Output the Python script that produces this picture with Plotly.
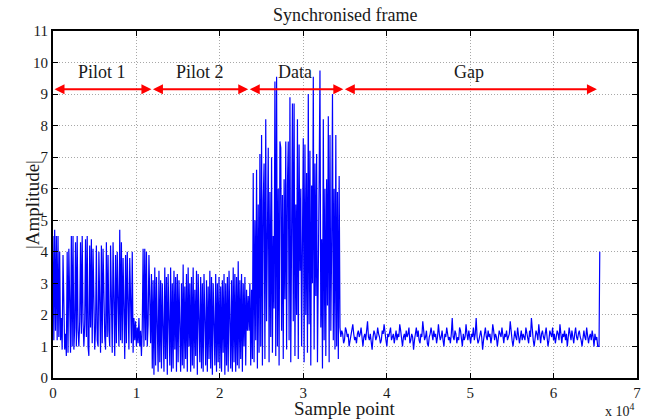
import numpy as np
import plotly.graph_objects as go

# segment boundaries (sample index)
seg_edges = [0, 11700, 23500, 34500, 65400]
seg_names = ["Pilot 1", "Pilot 2", "Data", "Gap"]

# |amplitude|, segment by segment
pilot1 = [4.5, 1.2, 4.7, 1.5, 4.5, 1.2, 4.5, 1.3, 4.0, 1.2, 1.9, 0.9, 3.9, 1.5, 0.9, 1.4, 0.7, 4.0, 0.8, 4.1,
          1.7, 0.8, 4.5, 1.0, 4.5, 0.9, 1.6, 4.3, 1.0, 4.5, 1.5, 1.0, 1.8, 4.3, 1.4, 4.5, 1.8, 1.0, 1.7, 4.4,
          1.3, 4.5, 1.0, 0.7, 4.2, 1.6, 4.4, 1.1, 4.1, 1.4, 0.9, 1.6, 4.2, 1.2, 1.0, 4.0, 1.4, 0.8, 4.2, 1.1,
          4.1, 1.6, 1.3, 0.9, 4.3, 1.3, 3.9, 1.5, 1.0, 4.2, 1.2, 0.8, 4.3, 1.4, 0.7, 3.9, 1.1, 4.0, 1.6, 1.0,
          4.7, 1.2, 4.3, 1.1, 3.8, 1.5, 0.6, 3.9, 1.1, 4.0, 1.3, 0.9, 3.8, 1.5, 1.1, 4.0, 0.8, 1.9, 1.2, 1.8,
          1.0, 1.6, 1.1, 1.9, 1.0, 1.5, 0.7, 1.6, 4.1, 1.0, 4.1, 1.2, 4.0, 1.0, 1.7, 3.9, 1.5]
pilot2 = [1.1, 3.3, 0.3, 3.1, 0.1, 3.5, 0.4, 3.2, 2.0, 0.2, 3.4, 0.5, 3.1, 0.3, 3.0, 1.2, 0.2, 3.5, 0.6, 3.2,
          0.1, 3.3, 1.8, 0.4, 3.5, 0.2, 3.0, 0.3, 3.4, 0.9, 3.2, 0.2, 3.3, 0.5, 3.1, 1.5, 0.2, 3.0, 0.4, 3.6,
          0.3, 2.9, 0.6, 3.3, 0.2, 3.5, 1.0, 3.0, 0.2, 3.2, 0.4, 3.5, 0.3, 2.8, 0.7, 3.4, 0.1, 3.3, 2.0, 0.5,
          3.2, 0.3, 3.0, 0.2, 3.3, 1.2, 0.4, 3.1, 0.2, 2.9, 0.6, 3.4, 0.3, 3.2, 0.1, 3.0, 1.6, 0.4, 3.3, 0.2,
          3.0, 0.5, 3.2, 0.3, 2.9, 0.2, 3.1, 0.8, 3.3, 0.1, 3.0, 0.4, 3.2, 0.2, 3.4, 1.4, 0.3, 3.1, 0.2, 3.5,
          0.5, 3.3, 0.2, 3.2, 0.4, 3.7, 0.3, 3.1, 0.6, 3.3, 0.2, 3.0, 1.0, 3.2, 0.4, 2.8, 1.5, 2.6]
data_seg = [1.5, 3.0, 0.4, 2.8, 0.6, 6.5, 0.5, 5.0, 1.2, 6.6, 0.3, 5.5, 0.8, 7.1, 1.0, 7.7, 0.4, 5.6, 6.8, 0.6,
            8.2, 1.8, 6.2, 7.3, 0.5, 5.9, 1.3, 7.0, 0.8, 4.5, 2.2, 9.4, 0.7, 9.55, 1.0, 6.0, 0.4, 7.5, 7.3, 1.5,
            5.8, 0.6, 6.3, 2.5, 7.5, 0.9, 6.1, 7.5, 1.2, 8.9, 0.5, 4.5, 8.7, 1.8, 8.7, 0.7, 5.5, 2.0, 8.2, 0.6,
            7.4, 3.4, 6.0, 1.0, 5.4, 7.6, 0.5, 7.4, 2.0, 6.5, 0.8, 9.0, 1.7, 7.2, 0.4, 6.1, 3.0, 9.55, 0.9, 6.8,
            2.6, 7.1, 0.5, 5.3, 6.3, 9.75, 1.6, 4.4, 0.3, 8.2, 1.2, 6.0, 0.7, 6.3, 2.3, 8.3, 0.5, 7.7, 1.5, 4.2,
            9.0, 1.2, 6.0, 0.9, 7.7, 1.0, 5.9, 0.6, 6.4, 1.6]
gap = [1.3, 1.5, 1.4, 1.1, 1.2, 1.6, 1.5, 1.3, 1.4, 1.0, 1.2, 1.3, 1.5, 1.7, 1.4, 1.2, 1.3, 1.1, 1.4, 1.5,
       1.3, 1.4, 1.6, 1.2, 1.0, 1.3, 1.4, 1.2, 1.5, 1.8, 1.3, 1.2, 1.4, 1.1, 0.9, 1.3, 1.5, 1.4, 1.2, 1.3,
       1.6, 1.4, 1.3, 1.1, 1.2, 1.5, 1.4, 1.7, 1.3, 1.2, 1.0, 1.4, 1.3, 1.5, 1.6, 1.2, 1.3, 1.4, 1.1, 1.3,
       1.5, 1.2, 1.4, 1.3, 1.7, 1.5, 1.2, 1.0, 1.3, 1.4, 1.2, 1.5, 1.3, 1.4, 1.6, 1.1, 1.2, 1.4, 1.3, 0.9,
       1.2, 1.4, 1.6, 1.3, 1.5, 1.2, 1.1, 1.4, 1.3, 1.8, 1.4, 1.2, 1.3, 1.5, 1.1, 1.0, 1.3, 1.4, 1.6, 1.3,
       1.2, 1.5, 1.3, 1.4, 1.1, 1.3, 1.7, 1.4, 1.2, 1.3, 1.5, 1.2, 1.0, 1.4, 1.3, 1.6, 1.4, 1.2, 1.3, 1.1,
       1.4, 1.9, 1.3, 1.2, 1.5, 1.4, 1.1, 1.3, 1.2, 1.6, 1.5, 1.3, 1.0, 1.4, 1.2, 1.3, 1.7, 1.4, 1.2, 1.5,
       1.3, 1.1, 1.4, 1.3, 1.6, 1.2, 1.4, 1.9, 1.3, 1.1, 1.2, 1.4, 1.5, 1.3, 0.9, 1.2, 1.4, 1.6, 1.3, 1.2,
       1.5, 1.3, 1.4, 1.1, 1.3, 1.7, 1.5, 1.2, 1.4, 1.3, 1.0, 1.2, 1.5, 1.4, 1.3, 1.6, 1.2, 1.1, 1.4, 1.3,
       1.5, 1.2, 1.3, 1.4, 1.8, 1.3, 1.2, 1.0, 1.4, 1.5, 1.3, 1.2, 1.6, 1.4, 1.1, 1.3, 1.5, 1.2, 1.4, 1.3,
       1.2, 1.6, 1.4, 1.3, 1.1, 1.5, 1.3, 1.9, 1.4, 1.2, 1.0, 1.3, 1.5, 1.4, 1.2, 1.7, 1.3, 1.1, 1.4, 1.5,
       1.3, 1.2, 1.4, 1.6, 1.3, 1.0, 1.2, 1.5, 1.4, 1.3, 1.6, 1.2, 1.4, 1.1, 1.3, 1.5, 1.4, 1.2, 1.7, 1.3,
       1.1, 1.4, 1.3, 1.5, 1.2, 1.4, 1.0, 1.3, 1.6, 1.4, 1.2, 1.5, 1.3, 1.1, 1.4, 1.6, 1.3, 1.2, 1.4, 1.5,
       1.3, 1.2, 1.0, 1.4, 1.5, 1.3, 1.2, 1.6, 1.4, 1.1, 1.3, 1.4, 1.2, 1.5, 1.3, 1.0, 1.4, 1.2, 1.3, 1.0]
tail_x = [65450, 65536]
tail_y = [1.0, 4.0]

# where the red arrows meet and label positions
arrow_edges = [0, 11800, 23400, 34800, 65200]
arrow_y = 9.15
label_x = [5900, 17600, 29000, 49900]
label_y = 9.7

x_ticks = [0, 1, 2, 3, 4, 5, 6, 7]
y_ticks = list(range(0, 12))

xs = []
ys = []
for i, seg in enumerate([pilot1, pilot2, data_seg, gap]):
    xs.extend(np.linspace(seg_edges[i], seg_edges[i + 1], len(seg), endpoint=False))
    ys.extend(seg)
xs.extend(tail_x)
ys.extend(tail_y)

serif = "Liberation Serif"
txt = "#1a1a1a"

fig = go.Figure()
fig.add_trace(go.Scatter(x=xs, y=ys, mode="lines",
                         line=dict(color="#0000ff", width=1.2), showlegend=False))

annots = []
for i in range(4):
    annots.append(dict(x=arrow_edges[i + 1], y=arrow_y, ax=arrow_edges[i], ay=arrow_y,
                       xref="x", yref="y", axref="x", ayref="y", text="",
                       showarrow=True, arrowhead=2, startarrowhead=2, arrowside="end+start",
                       arrowsize=1, startarrowsize=1,
                       arrowcolor="#ff0000", arrowwidth=2))
    annots.append(dict(x=label_x[i], y=label_y, xref="x", yref="y", text=seg_names[i],
                       showarrow=False, font=dict(family=serif, size=18, color=txt)))

annots.append(dict(x=-33 / 584, y=0.5, xref="paper", yref="paper", text="|Amplitude|",
                   textangle=-90, showarrow=False, font=dict(family=serif, size=19, color=txt)))
annots.append(dict(x=0.5, y=-30 / 347, xref="paper", yref="paper", text="Sample point",
                   showarrow=False, yanchor="middle", font=dict(family=serif, size=19, color=txt)))
annots.append(dict(x=1.0, y=-32 / 347, xref="paper", yref="paper", text="x 10<sup>4</sup>",
                   showarrow=False, xanchor="right", yanchor="middle",
                   font=dict(family=serif, size=14, color=txt)))
annots.append(dict(x=0.5, y=16 / 347 + 1, xref="paper", yref="paper", text="Synchronised frame",
                   showarrow=False, yanchor="middle", font=dict(family=serif, size=18, color=txt)))

axis_common = dict(showline=True, linecolor="black", linewidth=2, mirror="ticks",
                   ticks="inside", ticklen=5, tickcolor="black",
                   showgrid=True, gridcolor="#a8a8a8", griddash="1px,2px", gridwidth=1,
                   zeroline=False, tickfont=dict(family=serif, size=15, color=txt))

fig.update_layout(
    width=656, height=419,
    margin=dict(l=53, r=19, t=31, b=41),
    paper_bgcolor="white", plot_bgcolor="white",
    xaxis=dict(range=[0, 70000], tickvals=[t * 10000 for t in x_ticks],
               ticktext=[str(t) for t in x_ticks], **axis_common),
    yaxis=dict(range=[0, 11], tickvals=y_ticks, **axis_common),
    annotations=annots,
)

fig.write_html("out.html", config={"displayModeBar": False},
               post_script="document.body.style.margin='0';")
